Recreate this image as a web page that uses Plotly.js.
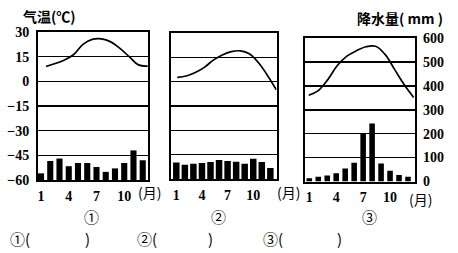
<!DOCTYPE html>
<html>
<head>
<meta charset="utf-8">
<script src="https://cdn.plot.ly/plotly-3.0.1.min.js"></script>
<style>html,body{margin:0;padding:0;background:#fff;}#chart{width:458px;height:253px;}</style>
</head>
<body>
<div id="chart"></div>
<script>
// ---- data ----
const months = [1,2,3,4,5,6,7,8,9,10,11,12];
const monthTickVals = [1,4,7,10];
const monthTickText = ['1','4','7','10'];
const tempTickVals = [30,15,0,-15,-30,-45,-60];
const precipTickVals = [600,500,400,300,200,100,0];

const temp1 = [9, 10.8, 13, 16.3, 22.5, 25.5, 25.8, 24, 20, 15, 10, 9.3];
const precip1 = [27, 77, 87, 56, 69, 69, 53, 33, 47, 69, 120, 80];
const temp2 = [2.7, 3.5, 5.6, 8.8, 13.3, 16.5, 18.5, 19, 17.2, 11.8, 4, -5];
const precip2 = [68, 59, 63, 66, 70, 78, 74, 71, 63, 83, 70, 45];
const temp3 = [-5.9, -3, 3.9, 12.7, 18.6, 22, 24.5, 24.8, 19.7, 10.3, 0.8, -7.3];
const precip3 = [14, 20, 25, 34, 54, 78, 201, 242, 75, 45, 27, 20];

const tempTitle = '气温(℃)';
const precipTitle = '降水量( mm )';
const monthUnit = '(月)';
const panelLabels = ['①','②','③'];
const answerLabels = ['①(', ')', '②(', ')', '③(', ')'];

// ---- layout helpers ----
const W = 458, H = 253;
const px = v => v / W;
const py = v => 1 - v / H;
const serif = 'Liberation Serif, Times New Roman, serif';
const cjk = 'Noto Sans CJK SC, sans-serif';

const panels = [
  {x:[38,148],  y:[32,180],  bar:[0.675,12.57], line:[0.135,12.03], temp:temp1, precip:precip1, bw:0.66, showLeft:true,  showRight:false},
  {x:[171,276.5],y:[33,179], bar:[0.38,12.72],  line:[0.3,12.02],   temp:temp2, precip:precip2, bw:0.76, showLeft:false, showRight:false},
  {x:[305,415], y:[38,181.5],bar:[0.52,12.78],  line:[0.61,12.14],  temp:temp3, precip:precip3, bw:0.62, showLeft:false, showRight:true}
];

const data = [];
const layout = {
  width: W, height: H,
  margin: {l:0, r:0, t:0, b:0},
  paper_bgcolor: '#fff', plot_bgcolor: 'rgba(0,0,0,0)',
  showlegend: false,
  font: {family: serif, color: '#000', size: 14},
  annotations: []
};

const tickFont = {family: serif, size: 14, color: '#000', weight: 'bold'};

panels.forEach((p, i) => {
  const xb = 2*i + 1, xl = 2*i + 2;     // bar x axis, line x axis
  const yt = 2*i + 1, yp = 2*i + 2;     // temp y axis, precip y axis
  const xbName = 'xaxis' + (xb === 1 ? '' : xb);
  const xlName = 'xaxis' + xl;
  const ytName = 'yaxis' + (yt === 1 ? '' : yt);
  const ypName = 'yaxis' + yp;
  const xbRef = 'x' + (xb === 1 ? '' : xb);
  const ytRef = 'y' + (yt === 1 ? '' : yt);

  layout[xbName] = {
    domain: [px(p.x[0]), px(p.x[1])], anchor: ytRef, range: p.bar,
    showgrid: false, zeroline: false, showline: true, mirror: true,
    linecolor: '#000', linewidth: 2, ticks: '',
    tickmode: 'array', tickvals: monthTickVals, ticktext: monthTickText,
    tickfont: tickFont, ticklabelstandoff: 2, fixedrange: true
  };
  layout[xlName] = {
    overlaying: xbRef, anchor: ytRef, range: p.line,
    showgrid: false, zeroline: false, showline: false, showticklabels: false, ticks: '', fixedrange: true
  };
  layout[ytName] = {
    domain: [py(p.y[1]), py(p.y[0])], anchor: xbRef, range: [-60, 30],
    tickmode: 'array', tickvals: tempTickVals,
    showgrid: true, gridcolor: '#000', gridwidth: 1.6,
    zeroline: false, showline: true, mirror: true, linecolor: '#000', linewidth: 2,
    ticks: '', showticklabels: p.showLeft,
    tickfont: tickFont, ticklabelstandoff: 4, fixedrange: true
  };
  layout[ypName] = {
    overlaying: ytRef, anchor: xbRef, side: 'right', range: [0, 600],
    tickmode: 'array', tickvals: precipTickVals,
    showgrid: false, zeroline: false, showline: false, ticks: '',
    showticklabels: p.showRight,
    tickfont: tickFont, ticklabelstandoff: 7, fixedrange: true
  };

  data.push({
    type: 'bar', x: months, y: p.precip, width: p.bw,
    xaxis: xbRef, yaxis: 'y' + yp,
    marker: {color: '#000', line: {width: 0}}, hoverinfo: 'skip'
  });
  data.push({
    type: 'scatter', mode: 'lines', x: months, y: p.temp,
    xaxis: 'x' + xl, yaxis: ytRef,
    line: {color: '#000', width: 1.7, shape: 'spline', smoothing: 1.1}, hoverinfo: 'skip', cliponaxis: true
  });
});

const ann = (text, x, y, size, family, xanchor, weight) => layout.annotations.push({
  text: text, xref: 'paper', yref: 'paper', x: px(x), y: py(y),
  xanchor: xanchor || 'center', yanchor: 'middle', showarrow: false,
  font: {family: family, size: size, color: '#000', weight: weight || 'normal'}
});

ann(tempTitle, 21, 16, 14, cjk, 'left', 'bold');
ann(precipTitle, 445, 18, 14, cjk, 'right', 'bold');
ann(monthUnit, 149, 192, 14, cjk);
ann(monthUnit, 288, 192, 14, cjk);
ann(monthUnit, 420, 199, 14, cjk);
ann(panelLabels[0], 91, 216, 15, cjk);
ann(panelLabels[1], 218, 216, 15, cjk);
ann(panelLabels[2], 369, 216, 15, cjk);
ann(answerLabels[0], 8, 238, 15, cjk, 'left');
ann(answerLabels[1], 87, 238, 15, cjk);
ann(answerLabels[2], 135, 238, 15, cjk, 'left');
ann(answerLabels[3], 210, 238, 15, cjk);
ann(answerLabels[4], 261, 238, 15, cjk, 'left');
ann(answerLabels[5], 339, 238, 15, cjk);

Plotly.newPlot('chart', data, layout, {staticPlot: true, displayModeBar: false});
</script>
</body>
</html>
